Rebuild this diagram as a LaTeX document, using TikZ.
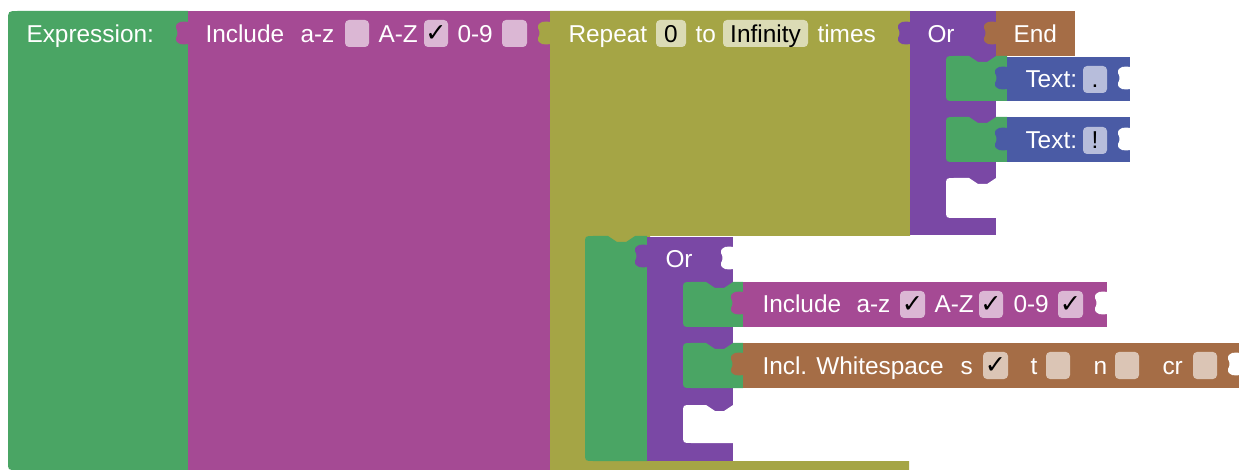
\documentclass[tikz,border=0pt]{standalone}
\usepackage{fontspec}
\setmainfont{Liberation Sans}
\newfontfamily\symfont{DejaVu Sans}

\definecolor{grnblk}{RGB}{74,165,100}
\definecolor{magblk}{RGB}{165,74,148}
\definecolor{olvblk}{RGB}{165,165,69}
\definecolor{purblk}{RGB}{122,72,165}
\definecolor{brnblk}{RGB}{165,109,70}
\definecolor{blublk}{RGB}{74,91,165}
\definecolor{magfld}{RGB}{219,183,212}
\definecolor{olvfld}{RGB}{219,219,181}
\definecolor{blufld}{RGB}{183,189,219}
\definecolor{brnfld}{RGB}{219,197,181}

\newcommand{\lblfont}{\fontsize{18.3}{20}\selectfont}
% puzzle tab: x of edge, top y, colour
\newcommand{\puzzletab}[3]{\fill[#3] (#1,#2) .. controls (#1-4,#2-1) and (#1-13,#2-1) .. (#1-12,#2+6) .. controls (#1-10,#2+9) and (#1-10,#2+13) .. (#1-12,#2+16) .. controls (#1-13,#2+23) and (#1-4,#2+23) .. (#1,#2+22) -- cycle;}
% statement shape with notch: x0, y0, x1, y1, colour
\newcommand{\stmtblock}[5]{\fill[#5] (#3,#4) -- (#3,#2) -- (#1+50,#2) -- (#1+41,#2+6) -- (#1+32,#2+6) -- (#1+23,#2) -- (#1+8,#2) .. controls (#1,#2) .. (#1,#2+8) -- (#1,#4-8) .. controls (#1,#4) .. (#1+8,#4) -- cycle;}

\tikzset{every picture/.style={line width=0.75pt}}

\begin{document}
\begin{tikzpicture}[x=0.75pt,y=0.75pt,yscale=-1,xscale=1,
  lbl/.style={anchor=base west, inner sep=0pt, text=white, font=\lblfont},
  fldtxt/.style={anchor=base, inner sep=0pt, text=black, font=\lblfont},
  chk/.style={inner sep=0pt, text=black, font=\symfont\fontsize{19}{19}\selectfont},
  fld/.style={rounded corners=3pt}]
\useasboundingbox (0,0) rectangle (1239,470);

%Shape: Repeat block
\fill[olvblk] (550,11) -- (910,11) -- (910,236) -- (650,236) -- (650,461) -- (909,461) -- (909,470) -- (550,470) -- cycle;
%Shape: Expression block
\fill[grnblk] (188,470) -- (16,470) .. controls (8,470) .. (8,462) -- (8,21) .. controls (8,11) .. (18,11) -- (188,11) -- cycle;
%Shape: Include block
\fill[magblk] (188,11) rectangle (550,470);

%Shape: Or block (top)
\fill[purblk] (910,11) rectangle (996,235);
%Shape: End block
\fill[brnblk] (996,11) rectangle (1075,56);
\stmtblock{946}{56}{1007}{101}{grnblk}
\stmtblock{946}{117}{1007}{162}{grnblk}
\stmtblock{946}{178}{996}{218}{white}
%Shape: Text blocks
\fill[blublk] (1007,57) rectangle (1130,101);
\fill[blublk] (1007,117) rectangle (1130,162);

%Shape: Or block (bottom)
\stmtblock{585}{236}{647}{461}{grnblk}
\fill[purblk] (647,237) rectangle (733,461);
\stmtblock{683}{282}{743}{327}{grnblk}
\stmtblock{683}{343}{743}{388}{grnblk}
\stmtblock{683}{405}{733}{443}{white}
%Shape: Include block (bottom)
\fill[magblk] (743,282) rectangle (1107,327);
%Shape: Whitespace block
\fill[brnblk] (743,343) rectangle (1239,388);

%Tabs
\puzzletab{188}{22}{magblk}
\puzzletab{550}{22}{olvblk}
\puzzletab{910}{22}{purblk}
\puzzletab{996}{22}{brnblk}
\puzzletab{1007}{67}{blublk}
\puzzletab{1007}{128}{blublk}
\puzzletab{647}{245}{purblk}
\puzzletab{743}{292}{magblk}
\puzzletab{743}{353}{brnblk}
%Empty sockets
\puzzletab{1130}{67}{white}
\puzzletab{1130}{128}{white}
\puzzletab{733}{247}{white}
\puzzletab{1107}{292}{white}
\puzzletab{1240}{353}{white}

%Fields
\fill[magfld, fld] (345,20) rectangle (369,47);
\fill[magfld, fld] (424,20) rectangle (448,47);
\fill[magfld, fld] (502,20) rectangle (527,47);
\fill[olvfld, fld] (656,20) rectangle (686,47);
\fill[olvfld, fld] (723,20) rectangle (808,47);
\fill[blufld, fld] (1083,66) rectangle (1107,93);
\fill[blufld, fld] (1083,127) rectangle (1107,154);
\fill[magfld, fld] (900,291) rectangle (925,318);
\fill[magfld, fld] (979,291) rectangle (1003,318);
\fill[magfld, fld] (1058,291) rectangle (1083,318);
\fill[brnfld, fld] (983,352) rectangle (1008,379);
\fill[brnfld, fld] (1046,352) rectangle (1070,379);
\fill[brnfld, fld] (1115,352) rectangle (1139,379);
\fill[brnfld, fld] (1193,352) rectangle (1217,379);

% Text Node
\node[lbl] (expr) at (26,43) {Expression:};
% Text Node
\node[lbl] (incl) at (205,43) {Include};
\node[lbl] (inclaz) at (300,43) {a-z};
\node[lbl] (inclAZ) at (378,43) {A-Z};
\node[chk] (chkAZ) at (436,34) {✓};
\node[lbl] (incl09) at (457,43) {0-9};
% Text Node
\node[lbl] (rep) at (568,43) {Repeat};
\node[fldtxt] (repmin) at (671,43) {0};
\node[lbl] (repto) at (695,43) {to};
\node[fldtxt] (repmax) at (765.5,43) {Infinity};
\node[lbl] (reptimes) at (817,43) {times};
% Text Node
\node[lbl] (ortop) at (927,43) {Or};
\node[lbl] (endlbl) at (1013,43) {End};
% Text Node
\node[lbl] (txtdot) at (1025,88) {Text:};
\node[fldtxt] (dotval) at (1095,88) {.};
\node[lbl] (txtexcl) at (1025,149) {Text:};
\node[fldtxt] (exclval) at (1095,149) {!};
% Text Node
\node[lbl] (orbot) at (665,268) {Or};
% Text Node
\node[lbl] (inclb) at (762,313) {Include};
\node[lbl] (inclbaz) at (856,313) {a-z};
\node[chk] (chkbaz) at (912.5,305) {✓};
\node[lbl] (inclbAZ) at (934,313) {A-Z};
\node[chk] (chkbAZ) at (991,305) {✓};
\node[lbl] (inclb09) at (1013,313) {0-9};
\node[chk] (chkb09) at (1070.5,305) {✓};
% Text Node
\node[lbl] (ws) at (762,374) {Incl. Whitespace};
\node[lbl] (wss) at (960,374) {s};
\node[chk] (chkws) at (995.5,366) {✓};
\node[lbl] (wst) at (1030,374) {t};
\node[lbl] (wsn) at (1093,374) {n};
\node[lbl] (wscr) at (1162,374) {cr};

\end{tikzpicture}
\end{document}
